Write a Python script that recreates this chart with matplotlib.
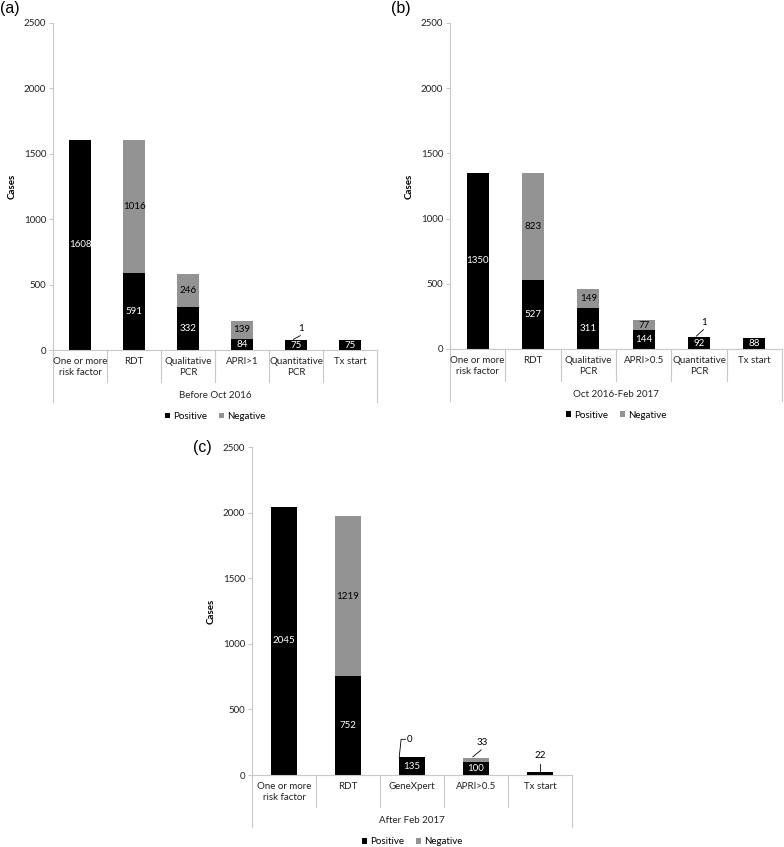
import matplotlib
matplotlib.use("Agg")
import matplotlib.pyplot as plt
import numpy as np

plt.rcParams['font.family'] = ['Lato', 'DejaVu Sans']

# ---------------- data ----------------
cats_a = ["One or more\nrisk factor", "RDT", "Qualitative\nPCR", "APRI>1", "Quantitative\nPCR", "Tx start"]
pos_a = [1608, 591, 332, 84, 75, 75]
neg_a = [0, 1016, 246, 139, 1, 0]
group_a = "Before Oct 2016"

cats_b = ["One or more\nrisk factor", "RDT", "Qualitative\nPCR", "APRI>0.5", "Quantitative\nPCR", "Tx start"]
pos_b = [1350, 527, 311, 144, 92, 88]
neg_b = [0, 823, 149, 77, 1, 0]
group_b = "Oct 2016-Feb 2017"

cats_c = ["One or more\nrisk factor", "RDT", "GeneXpert", "APRI>0.5", "Tx start"]
pos_c = [2045, 752, 135, 100, 22]
neg_c = [0, 1219, 0, 33, 0]
group_c = "After Feb 2017"

series_names = ["Positive", "Negative"]
y_ticks = [0, 500, 1000, 1500, 2000, 2500]

# ---------------- style ----------------
C_POS = "#000000"
C_NEG = "#939393"
C_AXIS = "#c8c8c8"
FS = 7.0

W, H = 784, 847
fig = plt.figure(figsize=(W / 100, H / 100), dpi=100)


def px_axes(l, r, top, bot):
    return fig.add_axes([l / W, 1 - bot / H, (r - l) / W, (bot - top) / H])


def draw_panel(ax, cats, pos, neg, group, callouts):
    n = len(cats)
    x = np.arange(n)
    pos = np.array(pos, dtype=float)
    neg = np.array(neg, dtype=float)
    bw = 0.4
    ax.bar(x, pos, width=bw, color=C_POS, label=series_names[0], zorder=2)
    ax.bar(x, neg, width=bw, bottom=pos, color=C_NEG, label=series_names[1], zorder=2)
    ax.set_xlim(-0.5, n - 0.5)
    ax.set_ylim(0, 2500)
    ax.set_yticks(y_ticks)
    ax.tick_params(axis='y', labelsize=FS, length=3, color=C_AXIS, pad=2, labelcolor='#222222')
    ax.set_xticks([])
    for s in ['top', 'right']:
        ax.spines[s].set_visible(False)
    ax.spines['left'].set_color(C_AXIS)
    ax.spines['bottom'].set_color(C_AXIS)
    ax.set_ylabel("Cases", fontsize=FS, fontweight='bold', labelpad=5)

    # data labels
    for i in range(n):
        if ('p', i) not in callouts and pos[i] > 0:
            ax.text(x[i], pos[i] / 2, f"{int(pos[i])}", ha='center', va='center',
                    fontsize=FS, color='white', zorder=3)
        if ('n', i) not in callouts and neg[i] > 0:
            ax.text(x[i], pos[i] + neg[i] / 2, f"{int(neg[i])}", ha='center', va='center',
                    fontsize=FS, color='black', zorder=3)
    for (kind, i), (dx, ly, style) in callouts.items():
        val = pos[i] if kind == 'p' else neg[i]
        top = pos[i] + neg[i]
        if style == 'slant':
            ax.plot([x[i] - 0.05, x[i] + dx - 0.02], [top + 5, ly - 55], color='black', lw=0.6, zorder=3)
            ax.text(x[i] + dx, ly, f"{int(val)}", ha='center', va='center', fontsize=FS)
        elif style == 'vert':
            ax.plot([x[i], x[i]], [top, ly - 60], color='black', lw=0.6, zorder=3)
            ax.text(x[i], ly, f"{int(val)}", ha='center', va='center', fontsize=FS)
        elif style == 'elbow':
            xl = x[i] - bw / 2
            ax.plot([xl, xl + 0.03, xl + 0.1], [top, ly, ly], color='black', lw=0.6, zorder=3)
            ax.text(xl + 0.12, ly, f"{int(val)}", ha='left', va='center', fontsize=FS)

    # hierarchical category axis
    sep_bot = -0.098
    outer_bot = -0.159
    for k in range(1, n):
        xf = k / n
        ax.plot([xf, xf], [0, sep_bot], transform=ax.transAxes, color=C_AXIS, lw=0.8, clip_on=False)
    for xf in (0, 1):
        ax.plot([xf, xf], [0, outer_bot], transform=ax.transAxes, color=C_AXIS, lw=0.8, clip_on=False)
    for i, c in enumerate(cats):
        ax.text((i + 0.5) / n, -0.022, c, transform=ax.transAxes, ha='center', va='top',
                fontsize=FS, color='#222222', linespacing=1.3)
    ax.text(0.5, -0.14, group, transform=ax.transAxes, ha='center', va='center',
            fontsize=FS, color='#222222')
    ax.legend(loc='center', bbox_to_anchor=(0.5, -0.203), ncol=2, frameon=False,
              fontsize=FS, handlelength=0.55, handleheight=0.55, handletextpad=0.3,
              columnspacing=1.2, borderpad=0)


ax_a = px_axes(53, 377, 23, 350)
draw_panel(ax_a, cats_a, pos_a, neg_a, group_a, {('n', 4): (0.1, 165, 'slant')})
fig.text(0 / W, 1 - 9 / H, "(a)", fontsize=11.5, family='Liberation Sans', va='center', ha='left')

ax_b = px_axes(450, 782, 23, 349)
draw_panel(ax_b, cats_b, pos_b, neg_b, group_b, {('n', 4): (0.1, 204, 'slant')})
fig.text(391 / W, 1 - 9 / H, "(b)", fontsize=11.5, family='Liberation Sans', va='center', ha='left')

ax_c = px_axes(252, 572, 447, 775)
draw_panel(ax_c, cats_c, pos_c, neg_c, group_c,
           {('n', 2): (0.0, 272, 'elbow'), ('n', 3): (0.1, 246, 'slant'), ('p', 4): (0.0, 145, 'vert')})
fig.text(193 / W, 1 - 447 / H, "(c)", fontsize=11.5, family='Liberation Sans', va='center', ha='left')

fig.savefig("out.png", dpi=100, facecolor='white')
